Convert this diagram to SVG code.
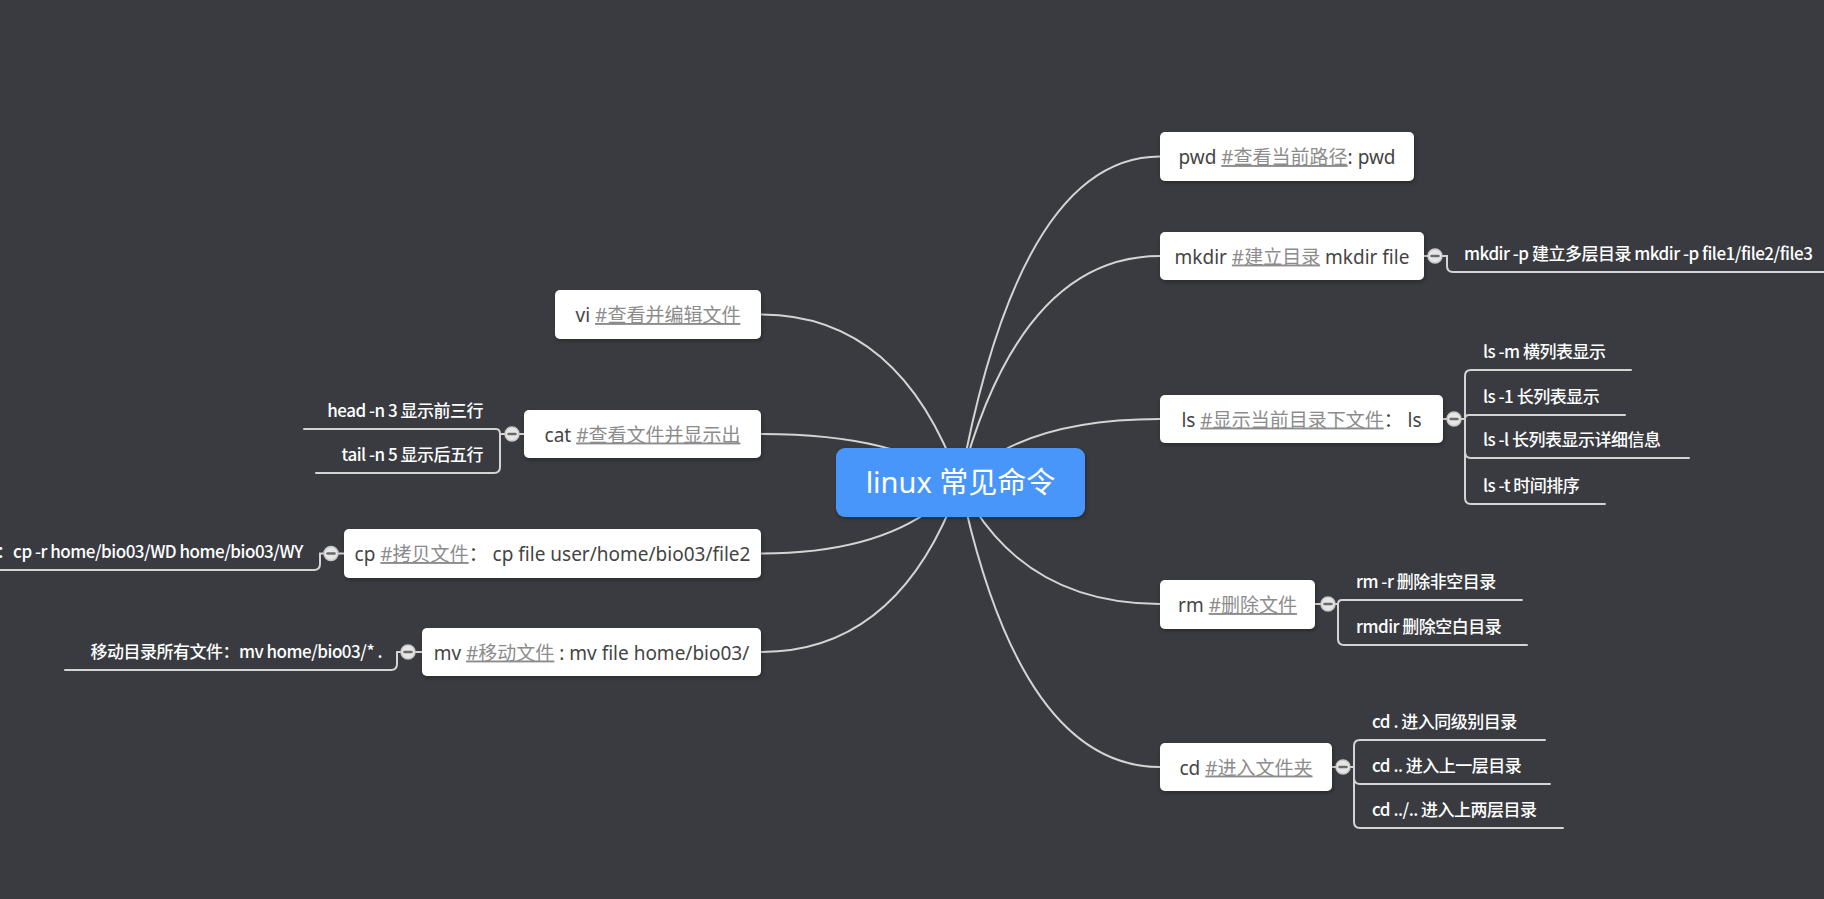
<svg xmlns="http://www.w3.org/2000/svg" width="1824" height="899" viewBox="0 0 1824 899">
<defs>
<style>
.bg{fill:#393b40}
.line{fill:none;stroke:#d4d4d4;stroke-width:2;stroke-linecap:round}
.box{fill:#ffffff;filter:url(#sh)}
.root{fill:#4a96fb;filter:url(#sh)}
.nt{font-family:"Noto Sans","Noto Sans CJK SC",sans-serif;font-size:19px;fill:#444444;text-anchor:middle}
.lk{fill:#8c8c8c;text-decoration:underline}
.rt{font-family:"Noto Sans","Noto Sans CJK SC",sans-serif;font-size:29px;fill:#ffffff;text-anchor:middle}
.ct{font-family:"Noto Sans CJK SC",sans-serif;font-size:17px;font-weight:500;letter-spacing:-0.5px;fill:#ffffff}
.ce{text-anchor:end}
.tg{fill:#e6e6e6;stroke:#c8c8c8;stroke-width:1.5}
.tm{stroke:#6a6a6a;stroke-width:2.5;stroke-linecap:round}
</style>
<filter id="sh" x="-10%" y="-20%" width="120%" height="150%">
<feDropShadow dx="1" dy="2" stdDeviation="2" flood-color="#000" flood-opacity="0.3"/>
</filter>
</defs>
<rect class="bg" x="0" y="0" width="1824" height="899"/>

<g id="connectors">
<path class="line" d="M960,483 Q1020,156.5 1160,156.5"/>
<path class="line" d="M960,483 Q1020,256 1160,256"/>
<path class="line" d="M960,483 Q1020,419 1160,419"/>
<path class="line" d="M960,483 Q1020,604 1160,604"/>
<path class="line" d="M960,483 Q1020,767 1160,767"/>
<path class="line" d="M960,483 Q900,314.5 761,314.5"/>
<path class="line" d="M960,483 Q900,434 761,434"/>
<path class="line" d="M960,483 Q900,553.5 761,553.5"/>
<path class="line" d="M960,483 Q900,652 761,652"/>

<path class="line" d="M1424,256 H1442 H1447 V266 Q1447,272 1453,272 H1824"/>

<path class="line" d="M1443,419 H1465 V376 Q1465,370 1471,370 H1631"/>
<path class="line" d="M1461,419 H1465 Q1465,415 1469,415 H1625"/>
<path class="line" d="M1461,419 H1465 V452 Q1465,458 1471,458 H1689"/>
<path class="line" d="M1461,419 H1465 V498 Q1465,504 1471,504 H1605"/>

<path class="line" d="M1315,604 H1338 Q1338,600 1342,600 H1522"/>
<path class="line" d="M1335,604 H1338 V639 Q1338,645 1344,645 H1527"/>

<path class="line" d="M1332,767 H1354 V746 Q1354,740 1360,740 H1545"/>
<path class="line" d="M1350,767 H1354 V778 Q1354,784 1360,784 H1550"/>
<path class="line" d="M1350,767 H1354 V822 Q1354,828 1360,828 H1563"/>

<path class="line" d="M524,434 H500 Q500,429 496,429 H304"/>
<path class="line" d="M505,434 H500 V467 Q500,473 494,473 H316"/>

<path class="line" d="M344,553.5 H320 V564 Q320,570 314,570 H0"/>

<path class="line" d="M422,652 H397 V664 Q397,670 391,670 H65"/>
</g>

<g id="root">
<rect class="root" x="836" y="448" width="249" height="69" rx="9"/>
<text class="rt" x="960.5" y="493">linux 常见命令</text>
</g>

<g id="node-pwd">
<rect class="box" x="1160" y="132" width="254" height="49" rx="5"/>
<text class="nt" x="1287" y="164">pwd <tspan class="lk">#查看当前路径</tspan>: pwd</text>
</g>

<g id="node-mkdir">
<rect class="box" x="1160" y="232" width="264" height="48" rx="5"/>
<text class="nt" x="1292" y="263.5">mkdir <tspan class="lk">#建立目录</tspan> mkdir file</text>
<circle class="tg" cx="1435" cy="256" r="7"/><line class="tm" x1="1431.5" y1="256" x2="1438.5" y2="256"/>
<text class="ct" x="1464" y="260">mkdir -p 建立多层目录 mkdir -p file1/file2/file3</text>
</g>

<g id="node-ls">
<rect class="box" x="1160" y="395" width="283" height="48" rx="5"/>
<text class="nt" x="1301.5" y="426.5">ls <tspan class="lk">#显示当前目录下文件</tspan>：  ls</text>
<circle class="tg" cx="1454" cy="419" r="7"/><line class="tm" x1="1450.5" y1="419" x2="1457.5" y2="419"/>
<text class="ct" x="1483" y="358">ls -m 横列表显示</text>
<text class="ct" x="1483" y="403">ls -1 长列表显示</text>
<text class="ct" x="1483" y="446">ls -l 长列表显示详细信息</text>
<text class="ct" x="1483" y="492">ls -t 时间排序</text>
</g>

<g id="node-rm">
<rect class="box" x="1160" y="580" width="155" height="49" rx="5"/>
<text class="nt" x="1237.5" y="612">rm <tspan class="lk">#删除文件</tspan></text>
<circle class="tg" cx="1328" cy="604" r="7"/><line class="tm" x1="1324.5" y1="604" x2="1331.5" y2="604"/>
<text class="ct" x="1356" y="588">rm -r 删除非空目录</text>
<text class="ct" x="1356" y="633">rmdir 删除空白目录</text>
</g>

<g id="node-cd">
<rect class="box" x="1160" y="743" width="172" height="48" rx="5"/>
<text class="nt" x="1246" y="774.5">cd <tspan class="lk">#进入文件夹</tspan></text>
<circle class="tg" cx="1343" cy="767" r="7"/><line class="tm" x1="1339.5" y1="767" x2="1346.5" y2="767"/>
<text class="ct" x="1372" y="728">cd . 进入同级别目录</text>
<text class="ct" x="1372" y="772">cd .. 进入上一层目录</text>
<text class="ct" x="1372" y="816">cd ../.. 进入上两层目录</text>
</g>

<g id="node-vi">
<rect class="box" x="555" y="290" width="206" height="49" rx="5"/>
<text class="nt" x="658" y="322">vi <tspan class="lk">#查看并编辑文件</tspan></text>
</g>

<g id="node-cat">
<rect class="box" x="524" y="410" width="237" height="48" rx="5"/>
<text class="nt" x="642.5" y="441.5">cat <tspan class="lk">#查看文件并显示出</tspan></text>
<circle class="tg" cx="512" cy="434" r="7"/><line class="tm" x1="508.5" y1="434" x2="515.5" y2="434"/>
<text class="ct ce" x="483" y="417">head -n 3 显示前三行</text>
<text class="ct ce" x="483" y="461">tail -n 5 显示后五行</text>
</g>

<g id="node-cp">
<rect class="box" x="344" y="529" width="417" height="49" rx="5"/>
<text class="nt" x="552.5" y="561">cp <tspan class="lk">#拷贝文件</tspan>：  cp file user/home/bio03/file2</text>
<circle class="tg" cx="331" cy="553.5" r="7"/><line class="tm" x1="327.5" y1="553.5" x2="334.5" y2="553.5"/>
<text class="ct ce" x="303" y="558">件：cp -r home/bio03/WD home/bio03/WY</text>
</g>

<g id="node-mv">
<rect class="box" x="422" y="628" width="339" height="48" rx="5"/>
<text class="nt" x="591.5" y="659.5">mv <tspan class="lk">#移动文件</tspan> : mv file home/bio03/</text>
<circle class="tg" cx="408" cy="652" r="7"/><line class="tm" x1="404.5" y1="652" x2="411.5" y2="652"/>
<text class="ct ce" x="382" y="658">移动目录所有文件：mv home/bio03/* .</text>
</g>
</svg>
